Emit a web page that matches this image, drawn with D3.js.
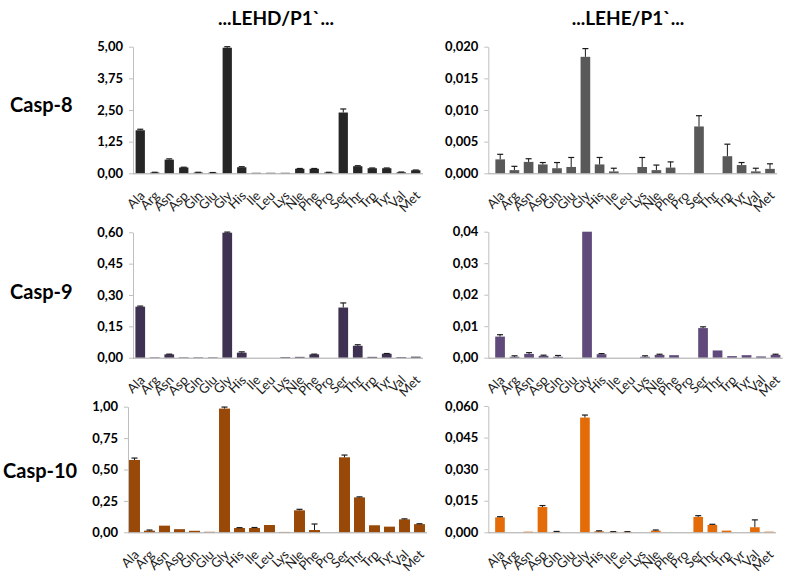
<!DOCTYPE html>
<html>
<head>
<meta charset="utf-8">
<script src="https://cdn.jsdelivr.net/npm/d3@7"></script>
<style>
  html, body { margin: 0; padding: 0; background: #ffffff; }
  svg { display: block; }
</style>
</head>
<body>
<svg id="chart" width="787" height="574"></svg>
<script>
// ---------- DATA ----------
const categories = ["Ala","Arg","Asn","Asp","Gln","Glu","Gly","His","Ile","Leu","Lys","Nle","Phe","Pro","Ser","Thr","Trp","Tyr","Val","Met"];

const columnTitles = ["...LEHD/P1`...", "...LEHE/P1`..."];
const rowLabels = ["Casp-8", "Casp-9", "Casp-10"];

const casp8LEHD    = [1.70,0.03,0.54,0.23,0.03,0.02,4.96,0.24,0.02,0.02,0.02,0.18,0.18,0.03,2.40,0.28,0.20,0.20,0.04,0.12];
const casp8LEHDErr = [0.04,0.01,0.03,0.01,0.01,0.01,0.04,0.02,0,0,0,0.01,0.01,0.01,0.14,0.02,0.01,0.01,0.01,0.01];
const casp8LEHE    = [0.0022,0.0005,0.0018,0.0014,0.0008,0.0010,0.0184,0.0014,0.0003,0,0.0010,0.0005,0.0009,0,0.0074,0,0.0027,0.0013,0.0003,0.0007];
const casp8LEHEErr = [0.0008,0.0006,0.0005,0.0003,0.0009,0.0015,0.0013,0.0011,0.0005,0,0.0015,0.0008,0.0009,0,0.0017,0,0.0019,0.0004,0.0005,0.0008];

const casp9LEHD    = [0.244,0.002,0.016,0.002,0.002,0.002,0.598,0.024,0,0,0.003,0.004,0.016,0,0.240,0.057,0.004,0.019,0.003,0.005];
const casp9LEHDErr = [0.003,0,0.001,0,0,0,0.003,0.004,0,0,0,0,0.001,0,0.022,0.005,0,0.001,0,0];
const casp9LEHE    = [0.0067,0.0003,0.0012,0.0006,0.0003,0,0.0400,0.0011,0,0,0.0003,0.0009,0.0008,0,0.0094,0.0023,0.0005,0.0008,0.0004,0.0009];
const casp9LEHEErr = [0.0006,0.0003,0.0004,0.0002,0.0004,0,0,0.0002,0,0,0.0003,0.0002,0,0,0.0004,0,0,0,0,0.0002];

const casp10LEHD    = [0.576,0.013,0.053,0.025,0.012,0.004,0.985,0.034,0.034,0.058,0.003,0.175,0.018,0,0.597,0.278,0.056,0.045,0.103,0.065];
const casp10LEHDErr = [0.015,0.005,0,0,0,0,0.012,0.003,0.004,0,0,0.008,0.048,0,0.018,0.004,0,0,0.004,0.003];
const casp10LEHE    = [0.0071,0,0.0003,0.0120,0.0002,0,0.0545,0.0005,0.0002,0.0002,0,0.0008,0,0,0.0073,0.0035,0.0008,0,0.0024,0.0003];
const casp10LEHEErr = [0.0003,0,0,0.0007,0.0002,0,0.0012,0.0002,0.0001,0.0001,0,0.0003,0,0,0.0006,0.0003,0,0,0.0035,0];

const casp8LEHDTicks  = [0, 1.25, 2.5, 3.75, 5];
const casp8LEHETicks  = [0, 0.005, 0.01, 0.015, 0.02];
const casp9LEHDTicks  = [0, 0.15, 0.3, 0.45, 0.6];
const casp9LEHETicks  = [0, 0.01, 0.02, 0.03, 0.04];
const casp10LEHDTicks = [0, 0.25, 0.5, 0.75, 1];
const casp10LEHETicks = [0, 0.015, 0.03, 0.045, 0.06];

// ---------- LAYOUT / STYLE ----------
const panels = [
  { values: casp8LEHD,  errs: casp8LEHDErr,  ticks: casp8LEHDTicks,  dec: 2, color: "#262626",
    axisX: 133, x0: 133, x1: 423, y0: 173.3, y1: 46.7, pad: 0.36 },
  { values: casp8LEHE,  errs: casp8LEHEErr,  ticks: casp8LEHETicks,  dec: 3, color: "#595959",
    axisX: 488.3, x0: 493.1, x1: 777.1, y0: 173.3, y1: 46.7, pad: 0.32 },
  { values: casp9LEHD,  errs: casp9LEHDErr,  ticks: casp9LEHDTicks,  dec: 2, color: "#3f3151",
    axisX: 133, x0: 133, x1: 423, y0: 357.7, y1: 232.3, pad: 0.33 },
  { values: casp9LEHE,  errs: casp9LEHEErr,  ticks: casp9LEHETicks,  dec: 2, color: "#604a7b",
    axisX: 488.3, x0: 492.8, x1: 782.8, y0: 357.7, y1: 231.7, pad: 0.33 },
  { values: casp10LEHD, errs: casp10LEHDErr, ticks: casp10LEHDTicks, dec: 2, color: "#984807",
    axisX: 128, x0: 127, x1: 427, y0: 532.3, y1: 406.7, pad: 0.27 },
  { values: casp10LEHE, errs: casp10LEHEErr, ticks: casp10LEHETicks, dec: 3, color: "#e36c09",
    axisX: 488.3, x0: 492.9, x1: 776.1, y0: 532.3, y1: 406, pad: 0.32 }
];

const FONT = "Lato, 'Open Sans', sans-serif";
const svg = d3.select("#chart");

// Column titles
const titleX = [276, 628];
svg.selectAll("text.coltitle").data(columnTitles).join("text")
  .attr("class", "coltitle")
  .attr("x", (d, i) => titleX[i]).attr("y", 25)
  .attr("text-anchor", "middle")
  .style("font-family", FONT).style("font-weight", 700).style("font-size", "19px")
  .attr("fill", "#000")
  .text(d => d);

// Row labels
const rowY = [112, 299, 478];
const rowX = [10, 10, 3];
svg.selectAll("text.rowlabel").data(rowLabels).join("text")
  .attr("class", "rowlabel")
  .attr("x", (d, i) => rowX[i]).attr("y", (d, i) => rowY[i])
  .style("font-family", FONT).style("font-weight", 700).style("font-size", "20px")
  .attr("fill", "#000")
  .text(d => d);

panels.forEach(p => {
  const g = svg.append("g");
  const x = d3.scaleBand().domain(categories).range([p.x0, p.x1])
    .paddingInner(p.pad).paddingOuter(p.pad / 2);
  const top = p.ticks[p.ticks.length - 1];
  const y = d3.scaleLinear().domain([0, top]).range([p.y0, p.y1]);
  const fmt = v => d3.format("." + p.dec + "f")(v).replace(".", ",");

  // y axis
  const yAxis = d3.axisLeft(y).tickValues(p.ticks).tickFormat(fmt).tickSizeInner(4).tickSizeOuter(0).tickPadding(6);
  const ya = g.append("g").attr("transform", `translate(${p.axisX},0)`).call(yAxis);
  ya.select(".domain").attr("stroke", "#bfbfbf");
  ya.selectAll(".tick line").attr("stroke", "#bfbfbf");
  ya.selectAll(".tick text").style("font-family", FONT).style("font-weight", 700)
    .style("font-size", "13px").attr("fill", "#000");

  // bars
  const data = categories.map((c, i) => ({ c, v: p.values[i], e: p.errs[i] }));
  g.selectAll("rect.bar").data(data).join("rect")
    .attr("class", "bar")
    .attr("x", d => x(d.c)).attr("width", x.bandwidth())
    .attr("y", d => y(d.v)).attr("height", d => y(0) - y(d.v))
    .attr("fill", p.color);

  // error bars (upper only)
  const eb = g.selectAll("g.err").data(data.filter(d => d.e > 0)).join("g").attr("class", "err");
  eb.append("line")
    .attr("x1", d => x(d.c) + x.bandwidth() / 2).attr("x2", d => x(d.c) + x.bandwidth() / 2)
    .attr("y1", d => y(d.v)).attr("y2", d => y(d.v + d.e))
    .attr("stroke", "#1a1a1a").attr("stroke-width", 1);
  eb.append("line")
    .attr("x1", d => x(d.c) + x.bandwidth() / 2 - 3).attr("x2", d => x(d.c) + x.bandwidth() / 2 + 3)
    .attr("y1", d => y(d.v + d.e)).attr("y2", d => y(d.v + d.e))
    .attr("stroke", "#1a1a1a").attr("stroke-width", 1.2);

  // x axis line
  g.append("line").attr("x1", p.axisX).attr("x2", p.x1)
    .attr("y1", y(0) + 0.5).attr("y2", y(0) + 0.5)
    .attr("stroke", "#a6a6a6").attr("stroke-width", 1);

  // x labels rotated
  g.selectAll("text.xl").data(categories).join("text")
    .attr("class", "xl")
    .attr("transform", d => `translate(${x(d) + x.bandwidth() / 2 + 2},${y(0) + 20}) rotate(-45)`)
    .attr("text-anchor", "end").attr("dy", "0.35em")
    .style("font-family", FONT).style("font-size", "13px").attr("fill", "#1a1a1a")
    .text(d => d);
});
</script>
</body>
</html>
